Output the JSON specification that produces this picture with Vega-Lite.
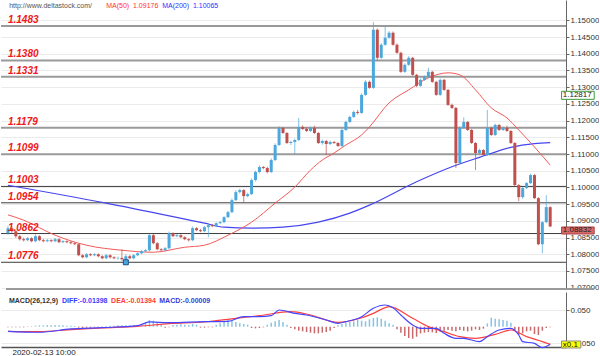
{
"$schema":"https://vega.github.io/schema/vega-lite/v6.json",
"padding":0,
"background":"white",
"bounds":"flush",
"spacing":3,
"config":{"view":{"stroke":null},"axis":{"labelFont":"Liberation Sans","labelFontSize":8,"labelColor":"#333","domainColor":"#666","tickColor":"#666","tickSize":3,"gridColor":"#ebebeb","labelPadding":1,"labelOverlap":false}},
"datasets":{
"candles":[
{"i":0,"o":1.0863,"h":1.0885,"l":1.0858,"c":1.0878,"m":-0.002},
{"i":1,"o":1.0878,"h":1.0884,"l":1.0864,"c":1.0869,"m":-0.002},
{"i":2,"o":1.0869,"h":1.0872,"l":1.0849,"c":1.0854,"m":-0.002},
{"i":3,"o":1.0854,"h":1.0858,"l":1.0841,"c":1.0845,"m":-0.002},
{"i":4,"o":1.0845,"h":1.0850,"l":1.0838,"c":1.0842,"m":-0.002},
{"i":5,"o":1.0842,"h":1.0852,"l":1.0839,"c":1.0848,"m":-0.001},
{"i":6,"o":1.0848,"h":1.0851,"l":1.0836,"c":1.0839,"m":-0.001},
{"i":7,"o":1.0839,"h":1.0860,"l":1.0836,"c":1.0854,"m":0.003},
{"i":8,"o":1.0854,"h":1.0857,"l":1.0839,"c":1.0842,"m":0.004},
{"i":9,"o":1.0842,"h":1.0846,"l":1.0836,"c":1.0839,"m":0.004},
{"i":10,"o":1.0839,"h":1.0846,"l":1.0836,"c":1.0842,"m":0.005},
{"i":11,"o":1.0842,"h":1.0845,"l":1.0836,"c":1.0839,"m":0.004},
{"i":12,"o":1.0839,"h":1.0849,"l":1.0836,"c":1.0845,"m":0.005},
{"i":13,"o":1.0845,"h":1.0848,"l":1.0833,"c":1.0836,"m":0.004},
{"i":14,"o":1.0836,"h":1.0842,"l":1.0833,"c":1.0839,"m":0.004},
{"i":15,"o":1.0839,"h":1.0842,"l":1.0833,"c":1.0836,"m":0.003},
{"i":16,"o":1.0836,"h":1.0840,"l":1.0830,"c":1.0833,"m":0.003},
{"i":17,"o":1.0833,"h":1.0836,"l":1.0827,"c":1.0830,"m":0.002},
{"i":18,"o":1.0830,"h":1.0833,"l":1.0794,"c":1.0797,"m":-0.003},
{"i":19,"o":1.0797,"h":1.0800,"l":1.0788,"c":1.0791,"m":-0.004},
{"i":20,"o":1.0791,"h":1.0804,"l":1.0788,"c":1.0800,"m":-0.003},
{"i":21,"o":1.0800,"h":1.0803,"l":1.0794,"c":1.0797,"m":-0.003},
{"i":22,"o":1.0797,"h":1.0804,"l":1.0794,"c":1.0800,"m":-0.002},
{"i":23,"o":1.0800,"h":1.0803,"l":1.0791,"c":1.0794,"m":-0.002},
{"i":24,"o":1.0794,"h":1.0797,"l":1.0785,"c":1.0788,"m":-0.001},
{"i":25,"o":1.0788,"h":1.0801,"l":1.0785,"c":1.0797,"m":0.002},
{"i":26,"o":1.0797,"h":1.0800,"l":1.0787,"c":1.0791,"m":0.003},
{"i":27,"o":1.0791,"h":1.0794,"l":1.0785,"c":1.0788,"m":0.003},
{"i":28,"o":1.0788,"h":1.0793,"l":1.0784,"c":1.0789,"m":0.004},
{"i":29,"o":1.0789,"h":1.0815,"l":1.0781,"c":1.0785,"m":0.004},
{"i":30,"o":1.0785,"h":1.0800,"l":1.0776,"c":1.0794,"m":0.004},
{"i":31,"o":1.0794,"h":1.0798,"l":1.0785,"c":1.0788,"m":0.004},
{"i":32,"o":1.0788,"h":1.0800,"l":1.0785,"c":1.0797,"m":0.005},
{"i":33,"o":1.0797,"h":1.0806,"l":1.0794,"c":1.0803,"m":0.005},
{"i":34,"o":1.0803,"h":1.0812,"l":1.0800,"c":1.0809,"m":0.006},
{"i":35,"o":1.0809,"h":1.0816,"l":1.0806,"c":1.0812,"m":0.012},
{"i":36,"o":1.0812,"h":1.0862,"l":1.0809,"c":1.0857,"m":0.020},
{"i":37,"o":1.0857,"h":1.0861,"l":1.0830,"c":1.0833,"m":0.018},
{"i":38,"o":1.0833,"h":1.0836,"l":1.0812,"c":1.0815,"m":0.012},
{"i":39,"o":1.0815,"h":1.0818,"l":1.0809,"c":1.0812,"m":0.006},
{"i":40,"o":1.0812,"h":1.0822,"l":1.0809,"c":1.0818,"m":-0.003},
{"i":41,"o":1.0818,"h":1.0868,"l":1.0815,"c":1.0863,"m":-0.002},
{"i":42,"o":1.0863,"h":1.0866,"l":1.0851,"c":1.0854,"m":0.005},
{"i":43,"o":1.0854,"h":1.0861,"l":1.0851,"c":1.0857,"m":0.006},
{"i":44,"o":1.0857,"h":1.0860,"l":1.0848,"c":1.0851,"m":0.007},
{"i":45,"o":1.0851,"h":1.0854,"l":1.0842,"c":1.0845,"m":0.006},
{"i":46,"o":1.0845,"h":1.0848,"l":1.0838,"c":1.0842,"m":0.005},
{"i":47,"o":1.0842,"h":1.0883,"l":1.0839,"c":1.0878,"m":0.008},
{"i":48,"o":1.0878,"h":1.0881,"l":1.0869,"c":1.0872,"m":0.006},
{"i":49,"o":1.0872,"h":1.0876,"l":1.0866,"c":1.0869,"m":-0.003},
{"i":50,"o":1.0869,"h":1.0885,"l":1.0866,"c":1.0881,"m":-0.003},
{"i":51,"o":1.0881,"h":1.0890,"l":1.0851,"c":1.0887,"m":-0.002},
{"i":52,"o":1.0887,"h":1.0891,"l":1.0881,"c":1.0884,"m":-0.002},
{"i":53,"o":1.0884,"h":1.0896,"l":1.0881,"c":1.0893,"m":0.006},
{"i":54,"o":1.0893,"h":1.0900,"l":1.0890,"c":1.0896,"m":0.010},
{"i":55,"o":1.0896,"h":1.0914,"l":1.0893,"c":1.0911,"m":0.015},
{"i":56,"o":1.0911,"h":1.0930,"l":1.0908,"c":1.0926,"m":0.020},
{"i":57,"o":1.0926,"h":1.0967,"l":1.0923,"c":1.0962,"m":0.018},
{"i":58,"o":1.0962,"h":1.0992,"l":1.0959,"c":1.0986,"m":0.014},
{"i":59,"o":1.0986,"h":1.0996,"l":1.0982,"c":1.0992,"m":0.010},
{"i":60,"o":1.0992,"h":1.0995,"l":1.0953,"c":1.0974,"m":0.008},
{"i":61,"o":1.0974,"h":1.0984,"l":1.0970,"c":1.0980,"m":0.006},
{"i":62,"o":1.0980,"h":1.1027,"l":1.0977,"c":1.1022,"m":-0.004},
{"i":63,"o":1.1022,"h":1.1050,"l":1.1018,"c":1.1046,"m":-0.005},
{"i":64,"o":1.1046,"h":1.1066,"l":1.1042,"c":1.1061,"m":-0.004},
{"i":65,"o":1.1061,"h":1.1064,"l":1.1054,"c":1.1058,"m":-0.002},
{"i":66,"o":1.1058,"h":1.1062,"l":1.1042,"c":1.1046,"m":0.006},
{"i":67,"o":1.1046,"h":1.1087,"l":1.1043,"c":1.1082,"m":0.012},
{"i":68,"o":1.1082,"h":1.1132,"l":1.1079,"c":1.1127,"m":0.016},
{"i":69,"o":1.1127,"h":1.1183,"l":1.1124,"c":1.1178,"m":0.020},
{"i":70,"o":1.1178,"h":1.1181,"l":1.1160,"c":1.1163,"m":0.014},
{"i":71,"o":1.1163,"h":1.1166,"l":1.1130,"c":1.1133,"m":0.006},
{"i":72,"o":1.1133,"h":1.1140,"l":1.1127,"c":1.1136,"m":-0.004},
{"i":73,"o":1.1136,"h":1.1146,"l":1.1100,"c":1.1142,"m":-0.008},
{"i":74,"o":1.1142,"h":1.1208,"l":1.1139,"c":1.1181,"m":-0.012},
{"i":75,"o":1.1181,"h":1.1186,"l":1.1172,"c":1.1175,"m":-0.014},
{"i":76,"o":1.1175,"h":1.1180,"l":1.1166,"c":1.1169,"m":-0.016},
{"i":77,"o":1.1169,"h":1.1182,"l":1.1166,"c":1.1178,"m":-0.018},
{"i":78,"o":1.1178,"h":1.1185,"l":1.1160,"c":1.1163,"m":-0.020},
{"i":79,"o":1.1163,"h":1.1166,"l":1.1130,"c":1.1133,"m":-0.020},
{"i":80,"o":1.1133,"h":1.1143,"l":1.1128,"c":1.1139,"m":-0.018},
{"i":81,"o":1.1139,"h":1.1142,"l":1.1097,"c":1.1130,"m":-0.016},
{"i":82,"o":1.1130,"h":1.1140,"l":1.1127,"c":1.1136,"m":-0.012},
{"i":83,"o":1.1136,"h":1.1139,"l":1.1130,"c":1.1133,"m":-0.004},
{"i":84,"o":1.1133,"h":1.1136,"l":1.1121,"c":1.1124,"m":0.004},
{"i":85,"o":1.1124,"h":1.1176,"l":1.1121,"c":1.1172,"m":0.008},
{"i":86,"o":1.1172,"h":1.1200,"l":1.1169,"c":1.1196,"m":0.012},
{"i":87,"o":1.1196,"h":1.1215,"l":1.1193,"c":1.1211,"m":0.014},
{"i":88,"o":1.1211,"h":1.1230,"l":1.1208,"c":1.1226,"m":0.016},
{"i":89,"o":1.1226,"h":1.1232,"l":1.1218,"c":1.1223,"m":0.020},
{"i":90,"o":1.1223,"h":1.1282,"l":1.1220,"c":1.1277,"m":0.018},
{"i":91,"o":1.1277,"h":1.1321,"l":1.1274,"c":1.1316,"m":0.016},
{"i":92,"o":1.1316,"h":1.1320,"l":1.1295,"c":1.1298,"m":0.022},
{"i":93,"o":1.1298,"h":1.1495,"l":1.1295,"c":1.1472,"m":0.026},
{"i":94,"o":1.1472,"h":1.1476,"l":1.1380,"c":1.1388,"m":0.028},
{"i":95,"o":1.1388,"h":1.1432,"l":1.1385,"c":1.1427,"m":0.024},
{"i":96,"o":1.1427,"h":1.1484,"l":1.1424,"c":1.1448,"m":0.018},
{"i":97,"o":1.1448,"h":1.1468,"l":1.1445,"c":1.1463,"m":0.010},
{"i":98,"o":1.1463,"h":1.1467,"l":1.1424,"c":1.1427,"m":0.006},
{"i":99,"o":1.1427,"h":1.1431,"l":1.1400,"c":1.1403,"m":-0.008},
{"i":100,"o":1.1403,"h":1.1406,"l":1.1343,"c":1.1346,"m":-0.018},
{"i":101,"o":1.1346,"h":1.1371,"l":1.1343,"c":1.1367,"m":-0.028},
{"i":102,"o":1.1367,"h":1.1393,"l":1.1364,"c":1.1388,"m":-0.034},
{"i":103,"o":1.1388,"h":1.1391,"l":1.1334,"c":1.1337,"m":-0.036},
{"i":104,"o":1.1337,"h":1.1340,"l":1.1300,"c":1.1304,"m":-0.030},
{"i":105,"o":1.1304,"h":1.1326,"l":1.1301,"c":1.1322,"m":-0.020},
{"i":106,"o":1.1322,"h":1.1335,"l":1.1319,"c":1.1331,"m":-0.018},
{"i":107,"o":1.1331,"h":1.1358,"l":1.1328,"c":1.1346,"m":-0.016},
{"i":108,"o":1.1346,"h":1.1349,"l":1.1313,"c":1.1316,"m":-0.017},
{"i":109,"o":1.1316,"h":1.1319,"l":1.1274,"c":1.1277,"m":-0.019},
{"i":110,"o":1.1277,"h":1.1326,"l":1.1274,"c":1.1322,"m":-0.015},
{"i":111,"o":1.1322,"h":1.1325,"l":1.1289,"c":1.1292,"m":-0.012},
{"i":112,"o":1.1292,"h":1.1295,"l":1.1244,"c":1.1247,"m":-0.010},
{"i":113,"o":1.1247,"h":1.1251,"l":1.1235,"c":1.1238,"m":-0.012},
{"i":114,"o":1.1238,"h":1.1241,"l":1.1058,"c":1.1073,"m":-0.014},
{"i":115,"o":1.1073,"h":1.1183,"l":1.1070,"c":1.1178,"m":-0.010},
{"i":116,"o":1.1178,"h":1.1210,"l":1.1175,"c":1.1196,"m":-0.012},
{"i":117,"o":1.1196,"h":1.1199,"l":1.1169,"c":1.1172,"m":-0.014},
{"i":118,"o":1.1172,"h":1.1175,"l":1.1130,"c":1.1133,"m":-0.012},
{"i":119,"o":1.1133,"h":1.1136,"l":1.1052,"c":1.1103,"m":-0.008},
{"i":120,"o":1.1103,"h":1.1116,"l":1.1098,"c":1.1112,"m":-0.010},
{"i":121,"o":1.1112,"h":1.1115,"l":1.1094,"c":1.1097,"m":-0.006},
{"i":122,"o":1.1097,"h":1.1232,"l":1.1094,"c":1.1178,"m":0.010},
{"i":123,"o":1.1178,"h":1.1182,"l":1.1154,"c":1.1157,"m":0.027},
{"i":124,"o":1.1157,"h":1.1191,"l":1.1154,"c":1.1187,"m":0.024},
{"i":125,"o":1.1187,"h":1.1190,"l":1.1169,"c":1.1172,"m":0.022},
{"i":126,"o":1.1172,"h":1.1182,"l":1.1169,"c":1.1178,"m":0.020},
{"i":127,"o":1.1178,"h":1.1185,"l":1.1166,"c":1.1169,"m":0.018},
{"i":128,"o":1.1169,"h":1.1172,"l":1.1130,"c":1.1133,"m":0.012},
{"i":129,"o":1.1133,"h":1.1136,"l":1.1004,"c":1.1007,"m":-0.010},
{"i":130,"o":1.1007,"h":1.1010,"l":1.0959,"c":1.0971,"m":-0.024},
{"i":131,"o":1.0971,"h":1.1001,"l":1.0966,"c":1.0998,"m":-0.020},
{"i":132,"o":1.0998,"h":1.1016,"l":1.0995,"c":1.1013,"m":-0.014},
{"i":133,"o":1.1013,"h":1.1041,"l":1.1010,"c":1.1037,"m":-0.012},
{"i":134,"o":1.1037,"h":1.1040,"l":1.0965,"c":1.0968,"m":-0.022},
{"i":135,"o":1.0968,"h":1.0971,"l":1.0827,"c":1.0830,"m":-0.025},
{"i":136,"o":1.0830,"h":1.0899,"l":1.0803,"c":1.0896,"m":-0.012},
{"i":137,"o":1.0896,"h":1.0977,"l":1.0893,"c":1.0941,"m":-0.004},
{"i":138,"o":1.0941,"h":1.0944,"l":1.0881,"c":1.08832,"m":-0.002}
],
"levels":[{"v":1.1483},{"v":1.1380},{"v":1.1331},{"v":1.1179},{"v":1.1099},{"v":1.1003},{"v":1.0954},{"v":1.0862},{"v":1.0776}],
"ma50":[{"i":0,"v":1.0918},{"i":4,"v":1.0902},{"i":12,"v":1.0857},{"i":20,"v":1.0827},{"i":29,"v":1.0812},{"i":37,"v":1.0806},{"i":45,"v":1.0821},{"i":50,"v":1.0827},{"i":56,"v":1.0857},{"i":62,"v":1.0896},{"i":68,"v":1.0953},{"i":73,"v":1.1001},{"i":77,"v":1.1052},{"i":80,"v":1.1082},{"i":83,"v":1.1103},{"i":86,"v":1.1127},{"i":90,"v":1.1157},{"i":92,"v":1.1181},{"i":97,"v":1.1253},{"i":102,"v":1.1292},{"i":107,"v":1.1328},{"i":112,"v":1.1343},{"i":115,"v":1.1337},{"i":119,"v":1.1292},{"i":123,"v":1.1238},{"i":127,"v":1.1208},{"i":130,"v":1.1172},{"i":134,"v":1.1121},{"i":138,"v":1.1067}],
"ma200":[{"i":0,"v":1.10065},{"i":25,"v":1.0953},{"i":50,"v":1.0893},{"i":55,"v":1.0881},{"i":62,"v":1.0878},{"i":70,"v":1.0881},{"i":79,"v":1.0896},{"i":87,"v":1.0923},{"i":92,"v":1.0947},{"i":104,"v":1.1017},{"i":113,"v":1.1062},{"i":120,"v":1.1090},{"i":128,"v":1.1120},{"i":134,"v":1.1131},{"i":138,"v":1.1134}],
"diff":[{"i":0,"v":-0.0140},{"i":8,"v":-0.0168},{"i":16,"v":-0.0069},{"i":24,"v":-0.0030},{"i":33,"v":0.0030},{"i":36,"v":0.0141},{"i":41,"v":0.0120},{"i":50,"v":0.0150},{"i":56,"v":0.0160},{"i":60,"v":0.0300},{"i":64,"v":0.0300},{"i":67,"v":0.0330},{"i":69,"v":0.0500},{"i":73,"v":0.0400},{"i":76,"v":0.0350},{"i":81,"v":0.0200},{"i":84,"v":0.0100},{"i":86,"v":0.0150},{"i":90,"v":0.0300},{"i":93,"v":0.0550},{"i":96,"v":0.0650},{"i":98,"v":0.0570},{"i":100,"v":0.0350},{"i":103,"v":0.0050},{"i":105,"v":-0.0050},{"i":109,"v":-0.0050},{"i":111,"v":-0.0200},{"i":114,"v":-0.0350},{"i":116,"v":-0.0350},{"i":120,"v":-0.0450},{"i":122,"v":-0.0300},{"i":125,"v":-0.0100},{"i":128,"v":-0.0050},{"i":130,"v":-0.0250},{"i":131,"v":-0.0450},{"i":134,"v":-0.0500},{"i":136,"v":-0.0630},{"i":138,"v":-0.0530}],
"dea":[{"i":0,"v":-0.0139},{"i":8,"v":-0.0150},{"i":16,"v":-0.0090},{"i":24,"v":-0.0040},{"i":33,"v":0.0010},{"i":41,"v":0.0090},{"i":50,"v":0.0140},{"i":58,"v":0.0250},{"i":64,"v":0.0330},{"i":72,"v":0.0450},{"i":77,"v":0.0350},{"i":84,"v":0.0130},{"i":89,"v":0.0230},{"i":93,"v":0.0400},{"i":96,"v":0.0570},{"i":97,"v":0.0600},{"i":103,"v":0.0250},{"i":107,"v":0.0000},{"i":111,"v":-0.0150},{"i":115,"v":-0.0300},{"i":119,"v":-0.0350},{"i":124,"v":-0.0230},{"i":128,"v":-0.0100},{"i":132,"v":-0.0300},{"i":136,"v":-0.0450},{"i":138,"v":-0.0530}],
"low":[{"i":30,"v":1.0776}],
"tags":[{"p":1.12817},{"p":1.08832}]
},
"vconcat":[
{
"width":565,"height":289,
"layer":[
{"data":{"name":"levels"},"transform":[{"filter":"datum.v > 1.105"}],"mark":{"type":"rule","color":"#9a9a9a","strokeWidth":2},
 "encoding":{"y":{"field":"v","type":"quantitative","title":null,"scale":{"domain":[1.0696,1.1561],"nice":false,"zero":false},"axis":{"orient":"right","values":[1.07,1.075,1.08,1.085,1.09,1.095,1.1,1.105,1.11,1.115,1.12,1.125,1.13,1.135,1.14,1.145,1.15],"format":".5f","grid":true,"labelOverlap":false,"title":null}}}},
{"data":{"name":"levels"},"transform":[{"filter":"datum.v < 1.105"}],"mark":{"type":"rule","color":"#3c3c3c","strokeWidth":1},
 "encoding":{"y":{"field":"v","type":"quantitative","title":null,"axis":{"orient":"right","values":[1.07,1.075,1.08,1.085,1.09,1.095,1.1,1.105,1.11,1.115,1.12,1.125,1.13,1.135,1.14,1.145,1.15],"format":".5f","grid":true,"labelOverlap":false,"title":null}}}},
{"data":{"name":"ma200"},"mark":{"type":"line","color":"#4646f0","strokeWidth":1.2,"interpolate":"monotone"},
 "encoding":{"x":{"field":"i","type":"quantitative","title":null,"scale":{"domain":[-0.5,140.75],"nice":false,"zero":false},"axis":null},"y":{"field":"v","type":"quantitative","title":null,"axis":{"orient":"right","values":[1.07,1.075,1.08,1.085,1.09,1.095,1.1,1.105,1.11,1.115,1.12,1.125,1.13,1.135,1.14,1.145,1.15],"format":".5f","grid":true,"labelOverlap":false,"title":null}}}},
{"data":{"name":"ma50"},"mark":{"type":"line","color":"#f25a5a","strokeWidth":1,"interpolate":"monotone"},
 "encoding":{"x":{"field":"i","type":"quantitative","title":null,"axis":null},"y":{"field":"v","type":"quantitative","title":null,"axis":{"orient":"right","values":[1.07,1.075,1.08,1.085,1.09,1.095,1.1,1.105,1.11,1.115,1.12,1.125,1.13,1.135,1.14,1.145,1.15],"format":".5f","grid":true,"labelOverlap":false,"title":null}}}},
{"data":{"name":"candles"},"mark":{"type":"rule","strokeWidth":1,"opacity":0.7},
 "encoding":{"x":{"field":"i","type":"quantitative","title":null,"axis":null},"y":{"field":"l","type":"quantitative","title":null,"axis":{"orient":"right","values":[1.07,1.075,1.08,1.085,1.09,1.095,1.1,1.105,1.11,1.115,1.12,1.125,1.13,1.135,1.14,1.145,1.15],"format":".5f","grid":true,"labelOverlap":false,"title":null}},"y2":{"field":"h"},
  "color":{"condition":{"test":"datum.c >= datum.o","value":"#4ba7dc"},"value":"#c0504d"}}},
{"data":{"name":"candles"},"mark":{"type":"bar","size":3},
 "encoding":{"x":{"field":"i","type":"quantitative","title":null,"axis":null},"y":{"field":"o","type":"quantitative","title":null,"axis":{"orient":"right","values":[1.07,1.075,1.08,1.085,1.09,1.095,1.1,1.105,1.11,1.115,1.12,1.125,1.13,1.135,1.14,1.145,1.15],"format":".5f","grid":true,"labelOverlap":false,"title":null}},"y2":{"field":"c"},
  "color":{"condition":{"test":"datum.c >= datum.o","value":"#4ba7dc"},"value":"#c0504d"}}},
{"data":{"name":"low"},"mark":{"type":"square","size":25,"filled":true,"color":"#4ba7dc","stroke":"#1d4f80","strokeWidth":1,"opacity":1},
 "encoding":{"x":{"field":"i","type":"quantitative","title":null,"axis":null},"y":{"field":"v","type":"quantitative","title":null,"axis":{"orient":"right","values":[1.07,1.075,1.08,1.085,1.09,1.095,1.1,1.105,1.11,1.115,1.12,1.125,1.13,1.135,1.14,1.145,1.15],"format":".5f","grid":true,"labelOverlap":false,"title":null}}}},
{"data":{"name":"levels"},"mark":{"type":"text","align":"left","baseline":"alphabetic","dy":-3,"font":"Liberation Sans","fontSize":10,"fontWeight":"bold","fontStyle":"italic","color":"#f01818"},
 "encoding":{"x":{"datum":0,"type":"quantitative","axis":null},"y":{"field":"v","type":"quantitative","title":null,"axis":{"orient":"right","values":[1.07,1.075,1.08,1.085,1.09,1.095,1.1,1.105,1.11,1.115,1.12,1.125,1.13,1.135,1.14,1.145,1.15],"format":".5f","grid":true,"labelOverlap":false,"title":null}},"text":{"field":"v","type":"quantitative","format":".4f"}}},
{"data":{"values":[{}]},"mark":{"type":"rect","fill":"white","stroke":"#3a9a3a","strokeWidth":1},
 "encoding":{"x":{"datum":140.9,"type":"quantitative","axis":null},"x2":{"datum":149.2},"y":{"datum":1.12877,"type":"quantitative","axis":{"orient":"right","values":[1.07,1.075,1.08,1.085,1.09,1.095,1.1,1.105,1.11,1.115,1.12,1.125,1.13,1.135,1.14,1.145,1.15],"format":".5f","grid":true,"labelOverlap":false,"title":null}},"y2":{"datum":1.12637}}},
{"data":{"values":[{}]},"mark":{"type":"rect","fill":"#d46a6a","stroke":"#b04040","strokeWidth":1},
 "encoding":{"x":{"datum":140.9,"type":"quantitative","axis":null},"x2":{"datum":149.2},"y":{"datum":1.08816,"type":"quantitative","axis":{"orient":"right","values":[1.07,1.075,1.08,1.085,1.09,1.095,1.1,1.105,1.11,1.115,1.12,1.125,1.13,1.135,1.14,1.145,1.15],"format":".5f","grid":true,"labelOverlap":false,"title":null}},"y2":{"datum":1.08606}}},
{"data":{"name":"tags"},"transform":[{"filter":"datum.p > 1.1"}],"mark":{"type":"text","align":"left","baseline":"middle","font":"Liberation Sans","fontSize":8,"color":"#222"},
 "encoding":{"x":{"datum":141.2,"type":"quantitative","axis":null},"y":{"datum":1.12757,"type":"quantitative","axis":{"orient":"right","values":[1.07,1.075,1.08,1.085,1.09,1.095,1.1,1.105,1.11,1.115,1.12,1.125,1.13,1.135,1.14,1.145,1.15],"format":".5f","grid":true,"labelOverlap":false,"title":null}},"text":{"field":"p","type":"quantitative","format":".5f"}}},
{"data":{"name":"tags"},"transform":[{"filter":"datum.p < 1.1"}],"mark":{"type":"text","align":"left","baseline":"middle","font":"Liberation Sans","fontSize":8,"color":"#222"},
 "encoding":{"x":{"datum":141.2,"type":"quantitative","axis":null},"y":{"datum":1.08711,"type":"quantitative","axis":{"orient":"right","values":[1.07,1.075,1.08,1.085,1.09,1.095,1.1,1.105,1.11,1.115,1.12,1.125,1.13,1.135,1.14,1.145,1.15],"format":".5f","grid":true,"labelOverlap":false,"title":null}},"text":{"field":"p","type":"quantitative","format":".5f"}}},
{"data":{"values":[{}]},"mark":{"type":"text","text":"http://www.deltastock.com/","align":"left","baseline":"middle","font":"Liberation Sans","fontSize":7,"color":"#555"},
 "encoding":{"x":{"datum":0.3,"type":"quantitative","axis":null},"y":{"datum":1.1544,"type":"quantitative","axis":{"orient":"right","values":[1.07,1.075,1.08,1.085,1.09,1.095,1.1,1.105,1.11,1.115,1.12,1.125,1.13,1.135,1.14,1.145,1.15],"format":".5f","grid":true,"labelOverlap":false,"title":null}}}},
{"data":{"values":[{}]},"mark":{"type":"text","text":"MA(50)\u00a0\u00a01.09176","align":"left","baseline":"middle","font":"Liberation Sans","fontSize":7,"color":"#ff3030"},
 "encoding":{"x":{"datum":25,"type":"quantitative","axis":null},"y":{"datum":1.1544,"type":"quantitative","axis":{"orient":"right","values":[1.07,1.075,1.08,1.085,1.09,1.095,1.1,1.105,1.11,1.115,1.12,1.125,1.13,1.135,1.14,1.145,1.15],"format":".5f","grid":true,"labelOverlap":false,"title":null}}}},
{"data":{"values":[{}]},"mark":{"type":"text","text":"MA(200)\u00a0\u00a01.10065","align":"left","baseline":"middle","font":"Liberation Sans","fontSize":7,"color":"#3030ff"},
 "encoding":{"x":{"datum":39.25,"type":"quantitative","axis":null},"y":{"datum":1.1544,"type":"quantitative","axis":{"orient":"right","values":[1.07,1.075,1.08,1.085,1.09,1.095,1.1,1.105,1.11,1.115,1.12,1.125,1.13,1.135,1.14,1.145,1.15],"format":".5f","grid":true,"labelOverlap":false,"title":null}}}},
{"data":{"values":[{}]},"mark":{"type":"rule","color":"#9a9a9a","strokeWidth":2},
 "encoding":{"x":{"datum":-0.5,"type":"quantitative","axis":null},"x2":{"datum":149.2},"y":{"datum":1.0696,"type":"quantitative","axis":{"orient":"right","values":[1.07,1.075,1.08,1.085,1.09,1.095,1.1,1.105,1.11,1.115,1.12,1.125,1.13,1.135,1.14,1.145,1.15],"format":".5f","grid":true,"labelOverlap":false,"title":null}}}}
]
},
{
"width":565,"height":55,
"layer":[
{"data":{"name":"candles"},"mark":{"type":"bar","size":1.5},
 "encoding":{"x":{"field":"i","type":"quantitative","title":null,"scale":{"domain":[-0.5,140.75],"nice":false,"zero":false},
   "axis":{"orient":"bottom","values":[0],"labelExpr":"'2020-02-13 10:00'","labelAlign":"left","labelOffset":4,"labelFontSize":8,"labelColor":"#222","ticks":false,"domain":true,"domainColor":"#555","domainWidth":1.5,"labelPadding":1,"grid":false,"title":null}},
  "y":{"field":"m","type":"quantitative","title":null,"scale":{"domain":[-0.061,0.104],"nice":false,"zero":false},"axis":{"orient":"right","values":[-0.05,0,0.05],"format":".3f","grid":true,"labelOverlap":false,"title":null}},
  "y2":{"datum":0},
  "color":{"condition":{"test":"datum.m >= 0","value":"#86c4e4"},"value":"#c86a6a"}}},
{"data":{"name":"dea"},"mark":{"type":"line","color":"#ff4040","strokeWidth":1.2,"interpolate":"monotone"},
 "encoding":{"x":{"field":"i","type":"quantitative","title":null,"axis":{"orient":"bottom","values":[0],"labelExpr":"'2020-02-13 10:00'","labelAlign":"left","labelOffset":4,"labelFontSize":8,"labelColor":"#222","ticks":false,"domain":true,"domainColor":"#555","domainWidth":1.5,"labelPadding":1,"grid":false,"title":null}},"y":{"field":"v","type":"quantitative","title":null,"axis":{"orient":"right","values":[-0.05,0,0.05],"format":".3f","grid":true,"labelOverlap":false,"title":null}}}},
{"data":{"name":"diff"},"mark":{"type":"line","color":"#4646ff","strokeWidth":1.2,"interpolate":"monotone"},
 "encoding":{"x":{"field":"i","type":"quantitative","title":null,"axis":{"orient":"bottom","values":[0],"labelExpr":"'2020-02-13 10:00'","labelAlign":"left","labelOffset":4,"labelFontSize":8,"labelColor":"#222","ticks":false,"domain":true,"domainColor":"#555","domainWidth":1.5,"labelPadding":1,"grid":false,"title":null}},"y":{"field":"v","type":"quantitative","title":null,"axis":{"orient":"right","values":[-0.05,0,0.05],"format":".3f","grid":true,"labelOverlap":false,"title":null}}}},
{"data":{"values":[{}]},"mark":{"type":"text","text":"MACD(26,12,9)","align":"left","baseline":"middle","font":"Liberation Sans","fontSize":7,"fontWeight":"bold","color":"#333"},
 "encoding":{"x":{"datum":0.25},"y":{"datum":0.078}}},
{"data":{"values":[{}]},"mark":{"type":"text","text":"DIFF:-0.01398","align":"left","baseline":"middle","font":"Liberation Sans","fontSize":7,"fontWeight":"bold","color":"#3a3aff"},
 "encoding":{"x":{"datum":13.75},"y":{"datum":0.078}}},
{"data":{"values":[{}]},"mark":{"type":"text","text":"DEA:-0.01394","align":"left","baseline":"middle","font":"Liberation Sans","fontSize":7,"fontWeight":"bold","color":"#ff3a3a"},
 "encoding":{"x":{"datum":26.25},"y":{"datum":0.078}}},
{"data":{"values":[{}]},"mark":{"type":"text","text":"MACD:-0.00009","align":"left","baseline":"middle","font":"Liberation Sans","fontSize":7,"fontWeight":"bold","color":"#3a3ad8"},
 "encoding":{"x":{"datum":38.5},"y":{"datum":0.078}}},
{"data":{"values":[{}]},"mark":{"type":"rect","fill":"#ffff00","stroke":"#888","strokeWidth":1},
 "encoding":{"x":{"datum":140.9},"x2":{"datum":145.8},"y":{"datum":-0.043},"y2":{"datum":-0.064}}},
{"data":{"values":[{}]},"mark":{"type":"text","text":"x0.1","align":"left","baseline":"middle","font":"Liberation Sans","fontSize":8,"color":"#111"},
 "encoding":{"x":{"datum":141.2},"y":{"datum":-0.0535}}}
]
}
]
}
